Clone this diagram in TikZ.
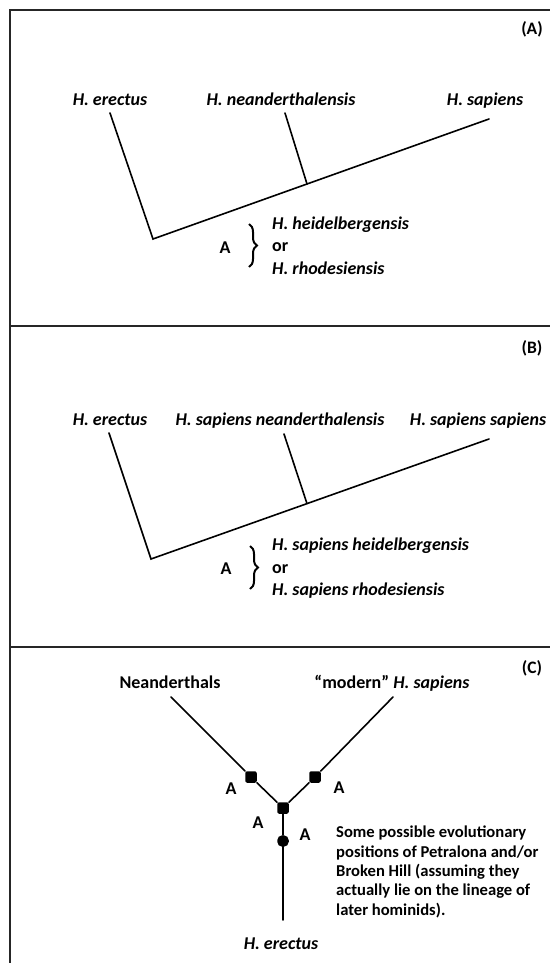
\documentclass[tikz,border=0pt]{standalone}
\usepackage{fontspec}
\setmainfont{Carlito}
\usetikzlibrary{decorations.pathreplacing}
\begin{document}
\begin{tikzpicture}[x=1pt,y=-1pt,
  frame/.style={line width=2pt,draw=black!85},
  branch/.style={line width=1.6pt,line cap=round},
  taxon/.style={font=\fontsize{18}{22}\selectfont\bfseries\itshape,inner sep=0pt,anchor=base},
  plain/.style={font=\fontsize{18}{22}\selectfont\bfseries,inner sep=0pt,anchor=base},
  body/.style={font=\fontsize{16.6}{19.3}\selectfont\bfseries,inner sep=0pt},
  panel/.style={font=\fontsize{17.5}{20}\selectfont\bfseries,inner sep=0pt,anchor=base},
  blob/.style={fill=black,draw=none,minimum size=11.5pt,inner sep=0pt,rounded corners=2pt,rectangle},
  roundblob/.style={blob,rounded corners=5pt},
  bracedeco/.style={decorate,decoration={brace,amplitude=8pt},line width=2pt}
]
\useasboundingbox (0,0) rectangle (550,963);
% frame
\coordinate (fBL) at (10,963);
\coordinate (fTL) at (10,10);
\coordinate (fTR) at (550,10);
\coordinate (d1L) at (10,326);
\coordinate (d1R) at (550,326);
\coordinate (d2L) at (10,647);
\coordinate (d2R) at (550,647);
\draw[frame] (fBL) -- (fTL) -- (fTR);
\draw[frame] (d1L) -- (d1R);
\draw[frame] (d2L) -- (d2R);

% ---------------- Panel A
\node[panel] (pA) at (532,35) {(A)};
\node[taxon] (aEl) at (110,106) {H. erectus};
\node[taxon] (aNl) at (281,106) {H. neanderthalensis};
\node[taxon] (aSl) at (485,106) {H. sapiens};
\coordinate (aE) at (110,113);
\coordinate (aR) at (153,239);
\coordinate (aS) at (489,119);
\coordinate (aN) at (285,113);
\coordinate (aJ) at (307,184);
\draw[branch] (aE) -- (aR) -- (aS);
\draw[branch] (aN) -- (aJ);
\node[plain] (aA) at (225,253) {A};
\coordinate (aB1) at (249,224);
\coordinate (aB2) at (249,267);
\draw[bracedeco] (aB1) -- (aB2);
\node[taxon,anchor=base west] (aT1) at (272,229) {H. heidelbergensis};
\node[plain,anchor=base west] (aT2) at (272,251.5) {or};
\node[taxon,anchor=base west] (aT3) at (272,274) {H. rhodesiensis};

% ---------------- Panel B
\node[panel] (pB) at (532,353) {(B)};
\node[taxon] (bEl) at (110,425) {H. erectus};
\node[taxon] (bNl) at (280,425) {H. sapiens neanderthalensis};
\node[taxon] (bSl) at (478,425) {H. sapiens sapiens};
\coordinate (bE) at (109,433);
\coordinate (bR) at (151,559);
\coordinate (bS) at (489,439);
\coordinate (bN) at (284,434);
\coordinate (bJ) at (307,503.6);
\draw[branch] (bE) -- (bR) -- (bS);
\draw[branch] (bN) -- (bJ);
\node[plain] (bA) at (226,574) {A};
\coordinate (bB1) at (250,546);
\coordinate (bB2) at (250,589);
\draw[bracedeco] (bB1) -- (bB2);
\node[taxon,anchor=base west] (bT1) at (272,550) {H. sapiens heidelbergensis};
\node[plain,anchor=base west] (bT2) at (272,573) {or};
\node[taxon,anchor=base west] (bT3) at (272,595) {H. sapiens rhodesiensis};

% ---------------- Panel C
\node[panel] (pC) at (532,673) {(C)};
\node[plain] (cNl) at (170,688) {Neanderthals};
\node[plain] (cMl) at (392,688) {“modern” \textit{H. sapiens}};
\node[taxon] (cEl) at (281,949) {H. erectus};
\coordinate (cN) at (171,697);
\coordinate (cM) at (393,697);
\coordinate (cE) at (283,920);
\node[blob] (cJ) at (283,808) {};
\node[blob] (cL) at (251,777) {};
\node[blob] (cR) at (315,777) {};
\node[roundblob] (cS) at (283,841) {};
\draw[branch] (cN) -- (cL) -- (cJ);
\draw[branch] (cM) -- (cR) -- (cJ);
\draw[branch] (cJ) -- (cS) -- (cE);
\node[plain] (cA1) at (231,794) {A};
\node[plain] (cA2) at (339,793) {A};
\node[plain] (cA3) at (258,828) {A};
\node[plain] (cA4) at (305,840) {A};
\node[body,anchor=base west,align=left] (cTxt) at (336,915) {Some possible evolutionary\\positions of Petralona and/or\\Broken Hill (assuming they\\actually lie on the lineage of\\later hominids).};
\end{tikzpicture}
\end{document}
